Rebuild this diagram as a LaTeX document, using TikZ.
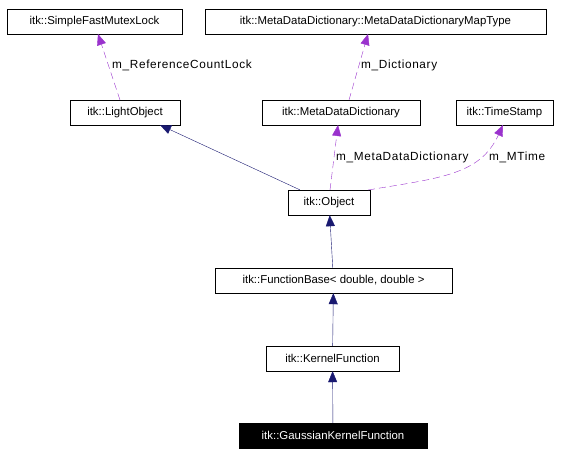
\documentclass[tikz,border=0pt]{standalone}
\usepackage{fontspec}
\setmainfont{Liberation Sans}
\newfontfamily\lblfont[LetterSpace=5.5]{Liberation Sans}
\usetikzlibrary{arrows.meta}
\definecolor{EdgeNavy}{HTML}{191970}
\definecolor{EdgePurple}{HTML}{9A32CD}
\tikzset{
  cls/.style={draw,thin,inner sep=0pt,minimum height=25pt,font=\fontsize{11.4}{13}\selectfont},
  curcls/.style={cls,fill=black,text=white},
  inherit/.style={EdgeNavy,thin,-{Triangle[length=11pt,width=9pt]}},
  member/.style={EdgePurple,thin,dashed,dash pattern=on 7pt off 4pt,-{Triangle[length=11pt,width=9pt]}},
  lbl/.style={anchor=west,inner sep=0pt,font=\lblfont\fontsize{11.8}{13}\selectfont,text=black}
}
\begin{document}
\begin{tikzpicture}[x=1pt,y=-1pt]
  \useasboundingbox (0,0) rectangle (584,455);
  \node[cls,minimum width=175pt] (mutex) at (94.5,21.5) {itk::SimpleFastMutexLock};
  \node[cls,minimum width=341pt] (maptype) at (375.5,21.5) {itk::MetaDataDictionary::MetaDataDictionaryMapType};
  \node[cls,minimum width=110pt] (light) at (125,112.5) {itk::LightObject};
  \node[cls,minimum width=158pt] (dict) at (341,112.5) {itk::MetaDataDictionary};
  \node[cls,minimum width=97pt] (stamp) at (504.5,112.5) {itk::TimeStamp};
  \node[cls,minimum width=82pt] (object) at (329,202.5) {itk::Object};
  \node[cls,minimum width=237pt] (funcbase) at (333.5,280.5) {itk::FunctionBase< double, double >};
  \node[cls,minimum width=133pt] (kernel) at (332.5,358.5) {itk::KernelFunction};
  \node[curcls,minimum width=188pt] (gauss) at (333,435.5) {itk::GaussianKernelFunction};
  % inheritance
  \draw[inherit] (object.north west)++(12,0) -- (160,125);
  \draw[inherit] (funcbase) -- (object);
  \draw[inherit] (kernel) -- (funcbase);
  \draw[inherit] (gauss) -- (kernel);
  % members
  \draw[member] (120,100) -- (98,34) node[lbl] at (112,65) {m\_ReferenceCountLock};
  \draw[member] (349,100) -- (368,34) node[lbl] at (361,65) {m\_Dictionary};
  \draw[member] (330,190) -- (338,125) node[lbl] at (336,157) {m\_MetaDataDictionary};
  \draw[member] (368,190) .. controls (440,178) and (480,175) .. (503,125) node[lbl] at (489,157) {m\_MTime};
\end{tikzpicture}
\end{document}
